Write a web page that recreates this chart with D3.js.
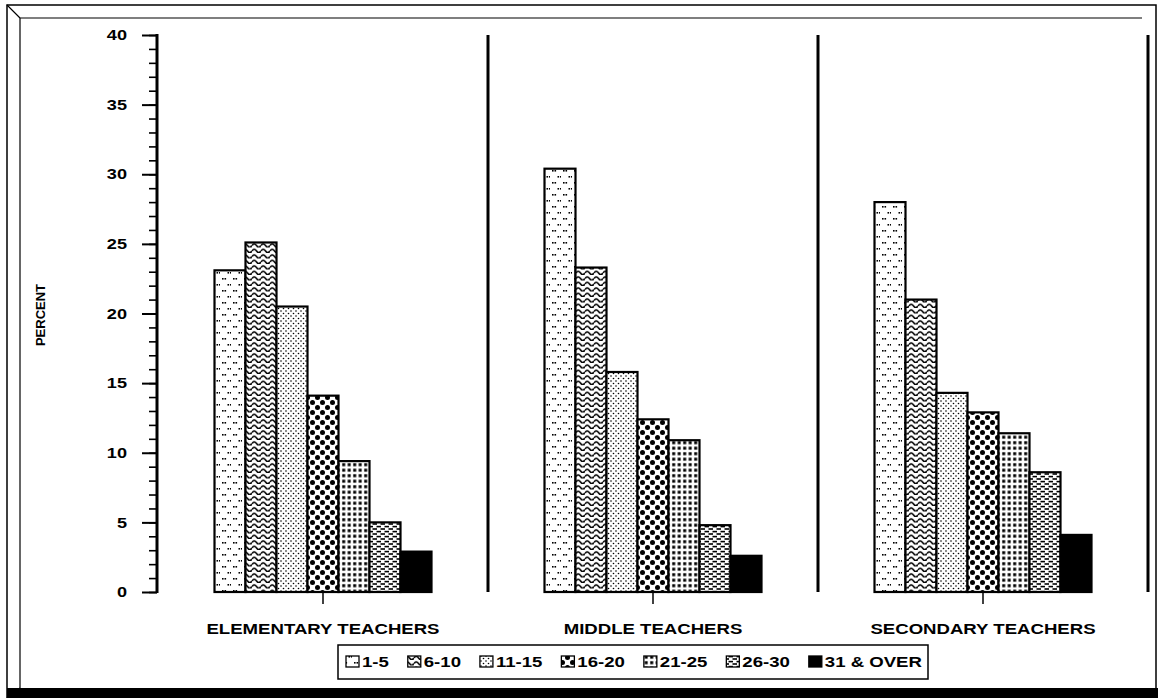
<!DOCTYPE html>
<html>
<head>
<meta charset="utf-8">
<script src="https://cdn.jsdelivr.net/npm/d3@7"></script>
<style>
  body { margin: 0; background: #fff; }
  svg { display: block; font-family: "Liberation Sans", Arial, Helvetica, sans-serif; font-weight: bold; }
</style>
</head>
<body>
<div id="chart"></div>
<script>
// groups on the x axis
const groups = ['ELEMENTARY TEACHERS', 'MIDDLE TEACHERS', 'SECONDARY TEACHERS'];
// years of experience bands (legend)
const bands = ['1-5', '6-10', '11-15', '16-20', '21-25', '26-30', '31 & OVER'];
// percent per band, one array per group
const elementary = [23.1, 25.1, 20.5, 14.1, 9.4, 5.0, 2.9];
const middle = [30.4, 23.3, 15.8, 12.4, 10.9, 4.8, 2.6];
const secondary = [28.0, 21.0, 14.3, 12.9, 11.4, 8.6, 4.1];
const yTicks = [0, 5, 10, 15, 20, 25, 30, 35, 40];

const seriesByGroup = [elementary, middle, secondary];
const data = [];
groups.forEach((g, gi) => {
    bands.forEach((b, bi) => {
        data.push({ group: g, band: b, value: seriesByGroup[gi][bi] });
    });
});

const W = 1158, H = 698;
const svg = d3.select('#chart').append('svg')
    .attr('width', W)
    .attr('height', H);

// ---- patterns for the bars ----
const defs = svg.append('defs');

function pattern(id, w, h) {
    const p = defs.append('pattern')
        .attr('id', id)
        .attr('patternUnits', 'userSpaceOnUse')
        .attr('width', w)
        .attr('height', h);
    p.append('rect').attr('width', w).attr('height', h).attr('fill', '#fff');
    return p;
}

// 1-5: sparse pairs of small dots
let p = pattern('pat0', 11, 12);
[[2, 2], [4.5, 2], [7.5, 8], [10, 8]].forEach(([x, y]) => {
    p.append('rect').attr('x', x).attr('y', y).attr('width', 1.6).attr('height', 1.6).attr('fill', '#000');
});

// 6-10: wavy lines
p = pattern('pat1', 9, 5.5);
p.append('path')
    .attr('d', 'M0,3.5 Q2.25,0.3 4.5,3.5 T9,3.5')
    .attr('fill', 'none')
    .attr('stroke', '#000')
    .attr('stroke-width', 1.6);

// 11-15: fine stipple
p = pattern('pat2', 5, 5);
[[1, 1], [3.5, 3.5]].forEach(([x, y]) => {
    p.append('circle').attr('cx', x).attr('cy', y).attr('r', 0.8).attr('fill', '#000');
});

// 16-20: large staggered dots
p = pattern('pat3', 10, 10);
[[2.5, 2.5], [7.5, 7.5]].forEach(([x, y]) => {
    p.append('circle').attr('cx', x).attr('cy', y).attr('r', 2.5).attr('fill', '#000');
});

// 21-25: grid of square dots
p = pattern('pat4', 5.5, 5.5);
p.append('rect').attr('x', 1.2).attr('y', 1.2).attr('width', 3).attr('height', 3).attr('fill', '#000');

// 26-30: short dashes, brick layout
p = pattern('pat5', 8, 5);
p.append('rect').attr('x', 0.5).attr('y', 0.8).attr('width', 4.5).attr('height', 1.6).attr('fill', '#000');
p.append('rect').attr('x', 4.5).attr('y', 3.2).attr('width', 4.5).attr('height', 1.6).attr('fill', '#000');
p.append('rect').attr('x', -3.5).attr('y', 3.2).attr('width', 4.5).attr('height', 1.6).attr('fill', '#000');

const fillFor = d3.scaleOrdinal()
    .domain(bands)
    .range(['url(#pat0)', 'url(#pat1)', 'url(#pat2)', 'url(#pat3)', 'url(#pat4)', 'url(#pat5)', '#000']);

// ---- frame ----
const frame = svg.append('g').attr('fill', 'none').attr('stroke', '#000');
frame.append('path').attr('d', 'M7,698 L7,5 L1156,5 L1156,690').attr('stroke-width', 1.5);
frame.append('path').attr('d', 'M20,688 L20,18 L1142,18').attr('stroke-width', 1.2);
frame.append('path').attr('d', 'M7,5 L20,18 M20,688 L7,698').attr('stroke-width', 1.2);
svg.append('rect').attr('x', 7).attr('y', 688).attr('width', W - 7).attr('height', H - 688).attr('fill', '#000');

// ---- scales ----
const y = d3.scaleLinear().domain([0, 40]).range([592, 35]);
const x0 = d3.scaleBand().domain(groups).range([158, 1148]);
const x1 = d3.scaleBand().domain(bands).range([-108.5, 108.5]);

const chart = svg.append('g');

// y axis: minor ticks every unit, major every 5
chart.append('g')
    .attr('transform', 'translate(157,0)')
    .call(d3.axisLeft(y).tickValues(d3.range(0, 41, 1)).tickSize(8).tickFormat(''))
    .call(g => g.select('.domain').remove())
    .selectAll('line').attr('stroke-width', 1.6);

const yAxis = chart.append('g')
    .attr('transform', 'translate(157,0)')
    .call(d3.axisLeft(y).tickValues(yTicks).tickSize(15).tickPadding(0))
    .call(g => g.select('.domain').remove());
yAxis.selectAll('line').attr('stroke-width', 2);
yAxis.selectAll('text')
    .attr('x', -30 / 1.25)
    .attr('transform', 'scale(1.25,1)')
    .style('font-size', '14.5px')
    .style('font-weight', 'bold')
    .attr('fill', '#000');

chart.append('line')
    .attr('x1', 157).attr('x2', 157)
    .attr('y1', y(40) - 1).attr('y2', y(0) + 1)
    .attr('stroke', '#000')
    .attr('stroke-width', 3);

svg.append('text')
    .attr('transform', 'translate(45,315) rotate(-90)')
    .attr('text-anchor', 'middle')
    .style('font-size', '13px')
    .text('PERCENT');

// separators between groups
chart.selectAll('.sep')
    .data(groups)
    .enter().append('line')
    .attr('class', 'sep')
    .attr('x1', d => x0(d) + x0.bandwidth())
    .attr('x2', d => x0(d) + x0.bandwidth())
    .attr('y1', y(40))
    .attr('y2', y(0))
    .attr('stroke', '#000')
    .attr('stroke-width', 3);

// bars
chart.selectAll('.bar')
    .data(data)
    .enter().append('rect')
    .attr('class', 'bar')
    .attr('x', d => x0(d.group) + x0.bandwidth() / 2 + x1(d.band))
    .attr('y', d => y(d.value))
    .attr('width', x1.bandwidth())
    .attr('height', d => y(0) - y(d.value))
    .attr('fill', d => fillFor(d.band))
    .attr('stroke', '#000')
    .attr('stroke-width', 2.2);

// group ticks and labels
chart.selectAll('.gtick')
    .data(groups)
    .enter().append('line')
    .attr('class', 'gtick')
    .attr('x1', d => x0(d) + x0.bandwidth() / 2)
    .attr('x2', d => x0(d) + x0.bandwidth() / 2)
    .attr('y1', y(0))
    .attr('y2', y(0) + 12)
    .attr('stroke', '#000')
    .attr('stroke-width', 1.5);

chart.selectAll('.glabel')
    .data(groups)
    .enter().append('text')
    .attr('class', 'glabel')
    .attr('transform', d => `translate(${x0(d) + x0.bandwidth() / 2},634) scale(1.2,1)`)
    .attr('text-anchor', 'middle')
    .style('font-size', '15.5px')
    .text(d => d);

// ---- legend ----
const legend = svg.append('g');
legend.append('rect')
    .attr('x', 338).attr('y', 645)
    .attr('width', 590).attr('height', 34)
    .attr('fill', '#fff')
    .attr('stroke', '#000')
    .attr('stroke-width', 1.5);

const sx = 1.2, legendStart = 346, legendEnd = 922, swW = 13, swGap = 3;
const items = legend.selectAll('.item')
    .data(bands)
    .enter().append('g')
    .attr('class', 'item');
items.append('rect')
    .attr('width', swW).attr('height', 11)
    .attr('y', 656)
    .attr('fill', d => fillFor(d))
    .attr('stroke', '#000')
    .attr('stroke-width', 1.3);
const labels = items.append('text')
    .style('font-size', '15.5px')
    .text(d => d);

// lay out items from measured text widths
const widths = labels.nodes().map(n => n.getComputedTextLength() * sx);
const used = d3.sum(widths) + bands.length * (swW + swGap);
const gap = (legendEnd - legendStart - used) / (bands.length - 1);
let cursor = legendStart;
items.each(function (d, i) {
    const g = d3.select(this);
    g.select('rect').attr('x', cursor);
    g.select('text').attr('transform', `translate(${cursor + swW + swGap},667) scale(${sx},1)`);
    cursor += swW + swGap + widths[i] + gap;
});
</script>
</body>
</html>
